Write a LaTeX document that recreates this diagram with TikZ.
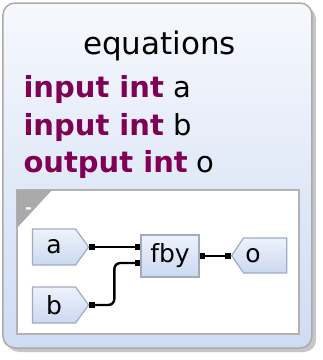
\documentclass[tikz,border=0pt]{standalone}
\usepackage{fontspec}
\setmainfont{DejaVu Sans}
\usetikzlibrary{arrows.meta,shapes.symbols,shadows}
\definecolor{keyword}{RGB}{127,0,85}
\definecolor{boxedge}{RGB}{160,172,190}
\definecolor{boxtop}{RGB}{238,243,252}
\definecolor{boxbot}{RGB}{202,216,240}
\definecolor{paneltop}{RGB}{246,248,253}
\definecolor{panelbot}{RGB}{206,220,243}
\definecolor{frame}{RGB}{170,170,170}
\tikzset{
  % boxes of the dataflow
  opbox/.style={draw=boxedge, line width=1.2pt, top color=boxtop, bottom color=boxbot,
    font=\fontsize{25}{25}\selectfont, inner sep=0pt},
  inport/.style={opbox, signal, signal to=east, signal pointer angle=108,
    minimum width=56, minimum height=36},
  outport/.style={opbox, signal, signal to=west, signal pointer angle=112,
    minimum width=55, minimum height=35},
  % wire with square ends
  wire/.style={line width=2.4pt,
    {Square[length=5.5pt,width=5.5pt]}-{Square[length=5.5pt,width=5.5pt]}},
  decl/.style={anchor=base west, font=\fontsize{29}{29}\selectfont},
}

\begin{document}
\begin{tikzpicture}[x=1pt,y=-1pt]
\useasboundingbox (0,0) rectangle (323,360);

% outer panel
\draw[draw=frame, line width=1.5pt, rounded corners=12, top color=paneltop, bottom color=panelbot,
  drop shadow={shadow xshift=4pt, shadow yshift=-4pt, fill=black!50, opacity=.45}]
  (3,3) rectangle (312,348);

\node[anchor=base, font=\fontsize{31}{31}\selectfont] (title) at (159.5,54) {equations};
\node[decl] (decla) at (20,97) {\textcolor{keyword}{\textbf{input int}} a};
\node[decl] (declb) at (20,135) {\textcolor{keyword}{\textbf{input int}} b};
\node[decl] (declo) at (20,172) {\textcolor{keyword}{\textbf{output int}} o};

% inner diagram area
\draw[draw=frame!90, line width=2pt, fill=white] (17,190) rectangle (299,334);
\fill[frame] (17,190) -- (52,190) -- (17,228) -- cycle;
\node[text=white, font=\bfseries\fontsize{16}{16}\selectfont, inner sep=0pt] (fold) at (28.5,211) {-};

\node[inport, anchor=west] (a) at (32,247) {a};
\node[inport, anchor=west] (b) at (32,305) {b};
\node[opbox, minimum width=58, minimum height=42] (fby) at (170,256) {fby};
\node[outport, anchor=west] (o) at (231,255.5) {o\kern24pt};

\coordinate (fbyin2) at ([yshift=-7pt]fby.west);

\draw[wire] (a.east) -- (a.east -| fby.west);
\draw[wire, rounded corners=6] (b.east) -- ++(25,0) |- (fbyin2);
\draw[wire] (fby.east) -- (fby.east -| o.west);

\end{tikzpicture}
\end{document}
